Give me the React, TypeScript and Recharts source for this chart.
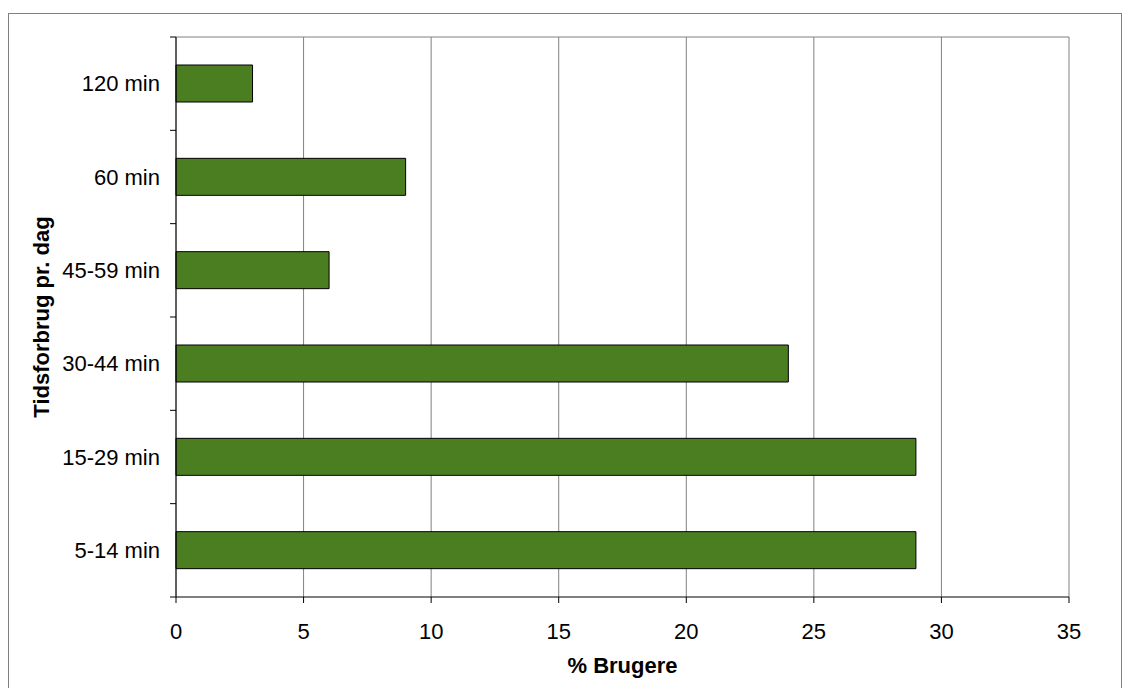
import { BarChart, Bar, XAxis, YAxis, CartesianGrid, Label } from 'recharts';

const categories = ['120 min', '60 min', '45-59 min', '30-44 min', '15-29 min', '5-14 min'];
const brugere = [3, 9, 6, 24, 29, 29];
const xTicks = [0, 5, 10, 15, 20, 25, 30, 35];

const data = categories.map((name, i) => ({ name, value: brugere[i] }));

const FONT = '"Liberation Sans", Arial, sans-serif';
const TICK_MARGIN = 10;
const TICK_SIZE = 6;

// category label + tick marks on the band edges (Excel style)
const CatTick = (props: any) => {
  const { x, y, payload, index } = props;
  const half = payload.offset || 0;
  const x2 = x + TICK_MARGIN + TICK_SIZE;
  const x1 = x2 - TICK_SIZE;
  return (
    <g>
      <line x1={x1} x2={x2} y1={y - half} y2={y - half} stroke="#000" />
      {index === categories.length - 1 && <line x1={x1} x2={x2} y1={y + half} y2={y + half} stroke="#000" />}
      <text x={x} y={y} dy="0.355em" textAnchor="end" fontFamily={FONT} fontSize={22} fill="#000">
        {payload.value}
      </text>
    </g>
  );
};

// axis titles drawn as plain svg text
const xTitle = () => (
  <text x={613.5} y={659} textAnchor="middle" fontFamily={FONT} fontSize={22} fontWeight="bold" fill="#000">
    % Brugere
  </text>
);

const yTitle = () => (
  <text x={40} y={303} transform="rotate(-90, 40, 303)" textAnchor="middle" fontFamily={FONT} fontSize={22} fontWeight="bold" fill="#000">
    Tidsforbrug pr. dag
  </text>
);

export default function App() {
  return (
    <div style={{ width: 1114, height: 682, marginTop: 5, border: '1px solid #808080', boxSizing: 'border-box', background: '#fff' }}>
      <BarChart
        width={1112}
        height={680}
        data={data}
        layout="vertical"
        barCategoryGap="30%"
        margin={{ top: 23, right: 52, left: 0, bottom: 0 }}
        style={{ fontFamily: FONT }}
      >
        <CartesianGrid horizontalPoints={[23]} stroke="#808080" strokeWidth={1} />
        <YAxis
          type="category"
          dataKey="name"
          width={167}
          tickLine={false}
          axisLine={{ stroke: '#000' }}
          tickSize={TICK_SIZE}
          tickMargin={TICK_MARGIN}
          tick={<CatTick />}
        >
          <Label content={yTitle} />
        </YAxis>
        <XAxis
          type="number"
          domain={[0, 35]}
          ticks={xTicks}
          height={97}
          tickSize={TICK_SIZE}
          tickMargin={20}
          tickLine={{ stroke: '#000' }}
          axisLine={{ stroke: '#000' }}
          tick={{ fill: '#000', fontSize: 22, fontFamily: FONT }}
        >
          <Label content={xTitle} />
        </XAxis>
        <Bar dataKey="value" fill="#4B7D21" stroke="#000" strokeWidth={1} isAnimationActive={false} />
      </BarChart>
    </div>
  );
}
